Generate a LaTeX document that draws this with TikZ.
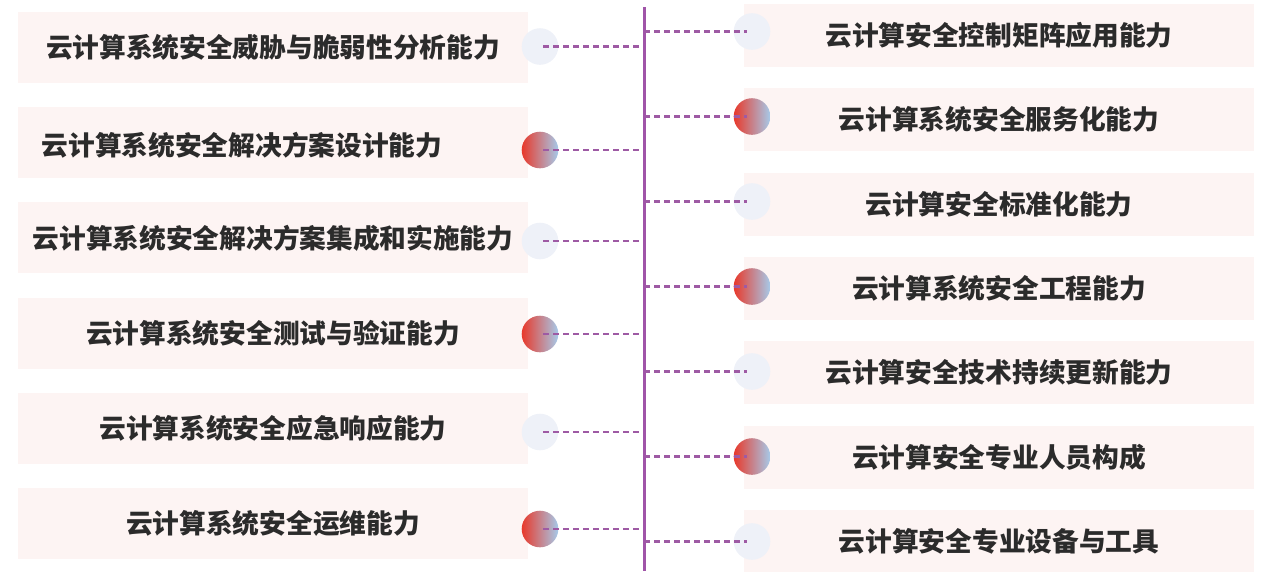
\documentclass[tikz,border=0pt]{standalone}
\usepackage{fontspec}
\usepackage{tikz}
\newfontfamily\cjk{Noto Sans CJK SC}
\definecolor{boxpink}{RGB}{253,244,243}
\definecolor{dotlight}{RGB}{238,241,248}
\definecolor{dotred}{RGB}{232,57,43}
\definecolor{dotblue}{RGB}{166,202,234}
\definecolor{spinecol}{RGB}{160,84,168}
\definecolor{linkcol}{RGB}{158,90,164}
\definecolor{textgray}{RGB}{43,43,43}

\begin{document}
\begin{tikzpicture}[x=1pt, y=-1pt,
    lbox/.style={rectangle, fill=boxpink, minimum width=510pt, minimum height=71pt, inner sep=0pt,
                 text=textgray, font=\cjk\bfseries\fontsize{26.7}{30}\selectfont},
    rbox/.style={lbox, minimum height=63pt},
    btext/.style={inner sep=0pt, text=textgray, font=\cjk\bfseries\fontsize{26.7}{30}\selectfont},
    lightdot/.style={circle, minimum size=36.6pt, inner sep=0pt, fill=dotlight},
    reddot/.style={circle, minimum size=36.6pt, inner sep=0pt, left color=dotred, right color=dotblue},
    link/.style={draw=linkcol, line width=2.8pt, dash pattern=on 6pt off 4pt},
    spine/.style={draw=spinecol, line width=3pt}]
        \useasboundingbox (0,0) rectangle (1265,571);

        % left column
        \node[lbox] (lb1) at (273,47.5)  {云计算系统安全威胁与脆弱性分析能力};  %
        \node[lbox] (lb2) at (273,142.7) {};                                    %
        \node[btext] (lt2) at (242,145)  {云计算系统安全解决方案设计能力};      %
        \node[lbox] (lb3) at (273,237.9) {云计算系统安全解决方案集成和实施能力};%
        \node[lbox] (lb4) at (273,333.1) {云计算系统安全测试与验证能力};        %
        \node[lbox] (lb5) at (273,428.3) {云计算系统安全应急响应能力};          %
        \node[lbox] (lb6) at (273,523.5) {云计算系统安全运维能力};              %

        \node[lightdot] (lc1) at (540,46.5) {};                                 %
        \node[reddot]   (lc2) at (540,150)  {};                                 %
        \node[lightdot] (lc3) at (540,241)  {};                                 %
        \node[reddot]   (lc4) at (540,334)  {};                                 %
        \node[lightdot] (lc5) at (540,432)  {};                                 %
        \node[reddot]   (lc6) at (540,529)  {};                                 %

        % right column
        \node[rbox] (rb1) at (999,35.5)  {云计算安全控制矩阵应用能力};          %
        \node[rbox] (rb2) at (999,119.8) {云计算系统安全服务化能力};            %
        \node[rbox] (rb3) at (999,204.1) {云计算安全标准化能力};                %
        \node[rbox] (rb4) at (999,288.4) {云计算系统安全工程能力};              %
        \node[rbox] (rb5) at (999,372.7) {云计算安全技术持续更新能力};          %
        \node[rbox] (rb6) at (999,457)   {云计算安全专业人员构成};              %
        \node[rbox] (rb7) at (999,541.3) {云计算安全专业设备与工具};            %

        \node[lightdot] (rc1) at (752,31.5)  {};                                %
        \node[reddot]   (rc2) at (752,116.5) {};                                %
        \node[lightdot] (rc3) at (752,201.5) {};                                %
        \node[reddot]   (rc4) at (752,286.5) {};                                %
        \node[lightdot] (rc5) at (752,371.5) {};                                %
        \node[reddot]   (rc6) at (752,456.5) {};                                %
        \node[lightdot] (rc7) at (752,541.5) {};                                %

        % spine
        \coordinate (spt) at (644,7);                                           %
        \coordinate (spb) at (644,571);                                         %

        \draw[link, shorten <=3pt]  (lc1.center) -- (lc1.center -| spt);        %
        \draw[link, shorten <=3pt]  (lc2.center) -- (lc2.center -| spt);        %
        \draw[link, shorten <=3pt]  (lc3.center) -- (lc3.center -| spt);        %
        \draw[link, shorten <=3pt]  (lc4.center) -- (lc4.center -| spt);        %
        \draw[link, shorten <=3pt]  (lc5.center) -- (lc5.center -| spt);        %
        \draw[link, shorten <=3pt]  (lc6.center) -- (lc6.center -| spt);        %

        \draw[link, shorten >=5pt]  (spt |- rc1.center) -- (rc1.center);        %
        \draw[link, shorten >=5pt]  (spt |- rc2.center) -- (rc2.center);        %
        \draw[link, shorten >=5pt]  (spt |- rc3.center) -- (rc3.center);        %
        \draw[link, shorten >=5pt]  (spt |- rc4.center) -- (rc4.center);        %
        \draw[link, shorten >=5pt]  (spt |- rc5.center) -- (rc5.center);        %
        \draw[link, shorten >=5pt]  (spt |- rc6.center) -- (rc6.center);        %
        \draw[link, shorten >=5pt]  (spt |- rc7.center) -- (rc7.center);        %

        \draw[spine] (spt) -- (spb);                                            %
      \end{tikzpicture}
\end{document}
